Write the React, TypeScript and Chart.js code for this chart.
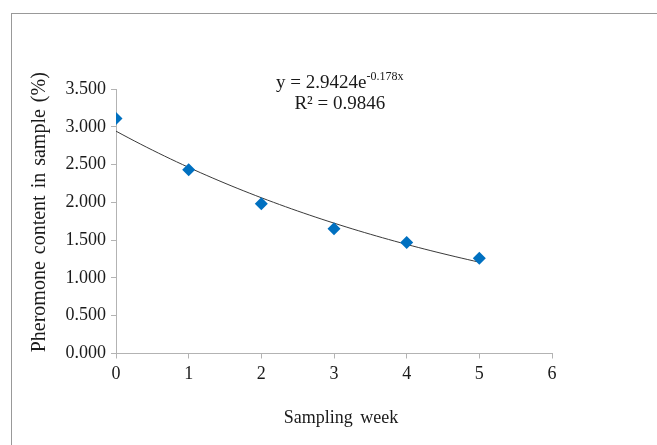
import React, { useEffect, useRef } from "react";
import { Chart, registerables } from "chart.js";

Chart.register(...registerables);

// ---- data ----
const WEEKS = [0, 1, 2, 3, 4, 5];
const PHEROMONE = [3.11, 2.43, 1.98, 1.65, 1.47, 1.26];
const X_MIN = 0;
const X_MAX = 6;
const X_STEP = 1;
const Y_MIN = 0;
const Y_MAX = 3.5;
const Y_STEP = 0.5;
// exponential trendline reported on the chart: y = A * e^(B x)
const TREND_A = 2.9424;
const TREND_B = -0.178;
const TREND_FROM = 0;
const TREND_TO = 5;
const TREND_SAMPLES = 60;
const EQ_MAIN = "y = 2.9424e";
const EQ_EXP = "-0.178x";
const EQ_R2 = "R² = 0.9846";
const EQ_ANCHOR_X = 3.08; // data units
const X_TITLE = "Sampling week";
const Y_TITLE = "Pheromone content in sample (%)";

const FONT = "'Liberation Serif', 'Times New Roman', serif";
const TEXT = "#1a1a1a";
const AXIS = "#b3b3b3";

const trendPoints = () => {
  const pts: { x: number; y: number }[] = [];
  for (let i = 0; i <= TREND_SAMPLES; i++) {
    const x = TREND_FROM + ((TREND_TO - TREND_FROM) * i) / TREND_SAMPLES;
    pts.push({ x, y: TREND_A * Math.exp(TREND_B * x) });
  }
  return pts;
};

const textPlugin = {
  id: "equationAndTitles",
  afterDatasetsDraw(chart: any) {
    const { ctx, scales, chartArea } = chart;
    const cx = scales.x.getPixelForValue(EQ_ANCHOR_X);
    const top = chartArea.top;
    ctx.save();
    ctx.fillStyle = TEXT;
    ctx.textBaseline = "alphabetic";
    ctx.textAlign = "left";
    ctx.font = `19px ${FONT}`;
    const wMain = ctx.measureText(EQ_MAIN).width;
    ctx.font = `12px ${FONT}`;
    const wExp = ctx.measureText(EQ_EXP).width;
    const total = wMain + wExp;
    const x0 = cx - total / 2;
    const base1 = top - 1;
    ctx.font = `19px ${FONT}`;
    ctx.fillText(EQ_MAIN, x0, base1);
    ctx.font = `12px ${FONT}`;
    ctx.fillText(EQ_EXP, x0 + wMain, base1 - 8);
    ctx.font = `19px ${FONT}`;
    ctx.textAlign = "center";
    ctx.fillText(EQ_R2, cx, base1 + 21);

    // axis titles
    ctx.textBaseline = "middle";
    ctx.textAlign = "center";
    try { (ctx as any).wordSpacing = "3px"; } catch (e) {}
    ctx.font = `18px ${FONT}`;
    const xMid = (chartArea.left + chartArea.right) / 2 + 7;
    ctx.fillText(X_TITLE, xMid, 418);

    try { (ctx as any).wordSpacing = "2px"; } catch (e) {}
    ctx.font = `20px ${FONT}`;
    const yMid = (chartArea.top + chartArea.bottom) / 2 - 9;
    ctx.translate(40, yMid);
    ctx.rotate(-Math.PI / 2);
    ctx.fillText(Y_TITLE, 0, 0);
    ctx.restore();
  },
};

export default function App() {
  const ref = useRef<HTMLCanvasElement | null>(null);
  useEffect(() => {
    if (!ref.current) return;
    const chart = new Chart(ref.current, {
      type: "scatter",
      data: {
        datasets: [
          {
            type: "scatter",
            label: "Pheromone",
            data: WEEKS.map((w, i) => ({ x: w, y: PHEROMONE[i] })),
            pointStyle: "rectRot",
            pointRadius: 6.5,
            pointHoverRadius: 6.5,
            backgroundColor: "#0070c0",
            borderColor: "#0070c0",
            borderWidth: 0,
            order: 1,
          },
          {
            type: "line",
            label: "Trend",
            data: trendPoints(),
            borderColor: "#3a3a3a",
            borderWidth: 1,
            pointRadius: 0,
            fill: false,
            tension: 0,
            order: 2,
          } as any,
        ],
      },
      options: {
        animation: false,
        responsive: false,
        maintainAspectRatio: false,
        layout: { padding: { left: 26, right: 105, top: 89, bottom: 10 } },
        plugins: { legend: { display: false }, tooltip: { enabled: false } },
        scales: {
          x: {
            type: "linear",
            min: X_MIN,
            max: X_MAX,
            afterFit: (s: any) => {
              s.height = 445 - 10 - 353.5;
            },
            ticks: {
              stepSize: X_STEP,
              color: TEXT,
              font: { family: FONT, size: 18 },
              padding: 5,
              maxRotation: 0,
            },
            grid: { drawOnChartArea: false, tickLength: 5, color: AXIS },
            border: { color: AXIS, width: 1 },
            title: { display: false, text: X_TITLE },
          },
          y: {
            type: "linear",
            min: Y_MIN,
            max: Y_MAX,
            afterFit: (s: any) => {
              s.width = 116 - 26;
            },
            ticks: {
              stepSize: Y_STEP,
              color: TEXT,
              font: { family: FONT, size: 18 },
              padding: 5,
              callback: (v: any) => Number(v).toFixed(3),
            },
            grid: { drawOnChartArea: false, tickLength: 5, color: AXIS },
            border: { color: AXIS, width: 1 },
            title: { display: false, text: Y_TITLE },
          },
        },
      },
      plugins: [textPlugin],
    });
    return () => chart.destroy();
  }, []);

  return (
    <div style={{ position: "fixed", left: 0, top: 0, width: 657, height: 445, overflow: "hidden", background: "#fff" }}>
      <div
        style={{
          position: "absolute",
          left: 11,
          top: 13,
          width: 700,
          height: 500,
          border: "1px solid #999",
        }}
      />
      <canvas ref={ref} width={657} height={445} style={{ position: "absolute", left: 0, top: 0, width: 657, height: 445 }} />
    </div>
  );
}
